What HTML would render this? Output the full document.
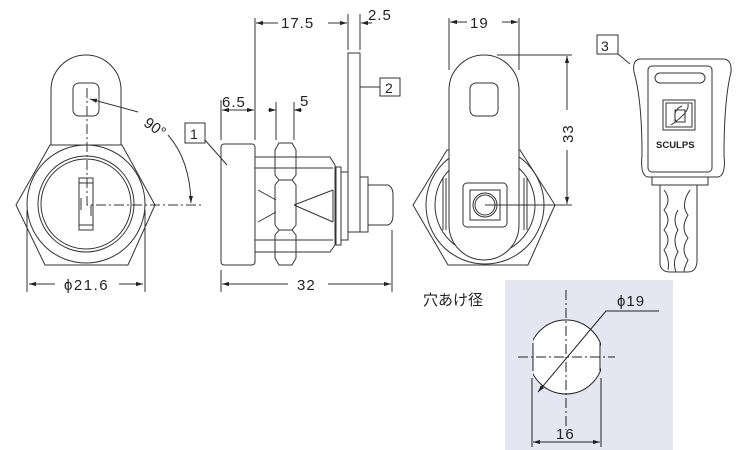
<!DOCTYPE html>
<html><head><meta charset="utf-8"><style>
html,body{margin:0;padding:0;background:#fff;}
svg{display:block;}
text{font-family:"Liberation Sans","Noto Sans CJK JP",sans-serif;fill:#222;}
</style></head><body>
<svg width="750" height="450" viewBox="0 0 750 450" xmlns="http://www.w3.org/2000/svg">
<defs>
<marker id="a" viewBox="0 0 10 10" refX="10" refY="5" markerWidth="7" markerHeight="7" orient="auto-start-reverse"><path d="M0,2 L10,5 L0,8 z" fill="#222"/></marker>
<clipPath id="hc"><rect x="533" y="300" width="68" height="120"/></clipPath>
</defs>
<g fill="none" stroke="#333" stroke-width="1">
<!-- FRONT VIEW -->
<path d="M51,145 L51,90 A35,35 0 0 1 121,90 L121,145"/>
<rect x="73" y="83" width="26" height="33" rx="6"/>
<path d="M16,205 L50,145 L122,145 L155,205 L128,265 L45,265 Z"/>
<circle cx="86" cy="204" r="59"/>
<circle cx="86" cy="204" r="48"/>
<circle cx="86" cy="204" r="45"/>
<rect x="79" y="178" width="14" height="52"/>
<line x1="79" y1="183" x2="93" y2="183"/><line x1="79" y1="225" x2="93" y2="225"/>
<line x1="81" y1="198" x2="81" y2="210"/><line x1="91" y1="205" x2="91" y2="216"/>
<path d="M87,88 V205 H203" stroke-dasharray="10,3,2,3"/>
<path d="M90,99 L138,112" marker-start="url(#a)"/>
<path d="M168,135 Q190,160 191,203" marker-end="url(#a)"/>
<line x1="27" y1="210" x2="27" y2="292"/><line x1="145" y1="210" x2="145" y2="292"/>
<line x1="29" y1="284" x2="55" y2="284" marker-start="url(#a)"/>
<line x1="119" y1="284" x2="143" y2="284" marker-end="url(#a)"/>
<!-- SIDE VIEW -->
<rect x="221" y="144" width="34" height="121" rx="3"/>
<path d="M255,157 H330 L335,165 V245 L330,252 H255"/>
<line x1="255" y1="168" x2="333" y2="168"/><line x1="255" y1="240" x2="333" y2="240"/>
<path d="M258,190 L276,200 M258,222 L276,212 M294,205 L333,190 M294,205 L333,222 M333,190 V222"/>
<path d="M279,143 H292 L296,150 V175 L292,180 L296,185 V225 L292,230 L296,235 V258 L292,265 H279 L275,258 V235 L279,230 L275,225 V185 L279,180 L275,175 V150 Z"/>
<line x1="279" y1="180" x2="292" y2="180"/><line x1="279" y1="230" x2="292" y2="230"/>
<rect x="336" y="167" width="5" height="78"/><rect x="341" y="172" width="7" height="68"/>
<rect x="348" y="53" width="12" height="179"/>
<rect x="360" y="177" width="8" height="55"/>
<path d="M368,185 H388 Q393,187 393,195 V215 Q393,223 388,225 H368"/>
<line x1="221" y1="100" x2="221" y2="140"/><line x1="255" y1="18" x2="255" y2="140"/>
<line x1="276" y1="102" x2="276" y2="140"/><line x1="294" y1="102" x2="294" y2="140"/>
<line x1="348" y1="14" x2="348" y2="50"/><line x1="360" y1="14" x2="360" y2="50"/>
<line x1="222" y1="110" x2="254" y2="110" marker-start="url(#a)" marker-end="url(#a)"/>
<line x1="268" y1="110" x2="276" y2="110" marker-end="url(#a)"/>
<line x1="294" y1="110" x2="302" y2="110" marker-start="url(#a)"/>
<line x1="256" y1="23" x2="278" y2="23" marker-start="url(#a)"/>
<line x1="328" y1="23" x2="347" y2="23" marker-end="url(#a)"/>
<line x1="361" y1="23" x2="372" y2="23" marker-start="url(#a)"/>
<line x1="221" y1="270" x2="221" y2="292"/><line x1="392" y1="230" x2="392" y2="292"/>
<line x1="222" y1="284" x2="288" y2="284" marker-start="url(#a)"/>
<line x1="328" y1="284" x2="391" y2="284" marker-end="url(#a)"/>
<rect x="185" y="123" width="20" height="20"/><line x1="205" y1="140" x2="227" y2="165"/>
<rect x="380" y="78" width="20" height="18"/><line x1="360" y1="87" x2="380" y2="87"/>
<!-- RIGHT VIEW -->
<path d="M413,205 L447,150 L520,150 L555,205 L528,265 L448,265 Z"/>
<circle cx="485" cy="205" r="59"/>
<circle cx="485" cy="205" r="50"/>
<path d="M443,178 V230 M446,178 V230 M524,178 V230 M527,178 V230"/>
<path d="M449,90 A35,35 0 0 1 519,90 V225 A35,35 0 0 1 449,225 Z" fill="#fff"/>
<rect x="470" y="83" width="28" height="33" rx="6"/>
<rect x="463" y="183" width="44" height="44" rx="4"/>
<rect x="470" y="190" width="30" height="30"/>
<circle cx="485" cy="205" r="12"/><circle cx="485" cy="205" r="10"/>
<line x1="449" y1="18" x2="449" y2="70"/><line x1="519" y1="18" x2="519" y2="70"/>
<line x1="450" y1="22" x2="467" y2="22" marker-start="url(#a)"/>
<line x1="502" y1="22" x2="518" y2="22" marker-end="url(#a)"/>
<line x1="497" y1="55" x2="572" y2="55"/><line x1="485" y1="205" x2="572" y2="205"/>
<line x1="567" y1="56" x2="567" y2="110" marker-start="url(#a)"/>
<line x1="567" y1="150" x2="567" y2="204" marker-end="url(#a)"/>
<!-- KEY -->
<rect x="597" y="35" width="21" height="19"/><line x1="618" y1="54" x2="630" y2="64"/>
<path d="M640,59 H724 Q732,60 731,72 Q724,100 724,155 Q726,176 718,177 H648 Q640,176 642,155 Q642,100 634,72 Q632,60 640,59 Z"/>
<rect x="648" y="66" width="64" height="106" rx="4"/>
<rect x="655" y="73" width="50" height="10" rx="5"/>
<rect x="663" y="100" width="32" height="30"/><rect x="666" y="103" width="26" height="24"/>
<rect x="675" y="110" width="10" height="12"/>
<path d="M671,125 Q690,112 688,104 M682,106 Q672,110 676,122"/>
<path d="M652,177 V185 H708 V177"/>
<path d="M660,185 V265 Q662,272 670,272 H688 Q696,272 697,262 V185"/>
<path d="M664,190 Q672,200 664,210 Q672,220 664,230 Q672,240 664,250 Q670,260 668,270"/>
<path d="M690,190 Q680,205 688,215 Q680,228 688,238 Q680,250 688,260 Q684,268 684,272"/>
<path d="M676,272 Q672,262 678,252 Q672,240 678,230 Q672,220 678,210"/>
</g>
<text x="64" y="290" font-size="15" letter-spacing="1.5">ϕ21.6</text>
<text x="145" y="132" font-size="15" transform="rotate(35 155 125)">90°</text>
<text x="222" y="107" font-size="15" letter-spacing="1">6.5</text>
<text x="300" y="106" font-size="15">5</text>
<text x="281" y="28" font-size="15" letter-spacing="1">17.5</text>
<text x="368" y="20" font-size="15" letter-spacing="1">2.5</text>
<text x="297" y="290" font-size="15" letter-spacing="1">32</text>
<text x="190" y="139" font-size="14">1</text>
<text x="385" y="93" font-size="14">2</text>
<text x="470" y="28" font-size="15" letter-spacing="1">19</text>
<text x="0" y="0" font-size="15" letter-spacing="1" transform="translate(573,143) rotate(-90)">33</text>
<text x="601" y="51" font-size="14">3</text>
<text x="656" y="148" font-size="9.5" font-weight="bold" fill="#333">SCULPS</text>
<rect x="505" y="280" width="168" height="170" fill="#e4e6f2"/>
<g fill="none" stroke="#222" stroke-width="1">
<circle cx="566" cy="357" r="37" clip-path="url(#hc)" fill="#fff"/>
<line x1="533" y1="343" x2="533" y2="371"/><line x1="600" y1="343" x2="600" y2="371"/>
<path d="M566,290 V430 M518,357 H615" stroke-dasharray="10,3,2,3"/>
<path d="M659,311 H606 L538,392" marker-end="url(#a)"/>
<line x1="532" y1="378" x2="532" y2="447"/><line x1="601" y1="378" x2="601" y2="447"/>
<line x1="533" y1="442" x2="600" y2="442" marker-start="url(#a)" marker-end="url(#a)"/>
</g>
<text x="423" y="305" font-size="15">穴あけ径</text>
<text x="617" y="306" font-size="15" letter-spacing="1">ϕ19</text>
<text x="556" y="439" font-size="15" letter-spacing="1">16</text>
</svg>
</body></html>
